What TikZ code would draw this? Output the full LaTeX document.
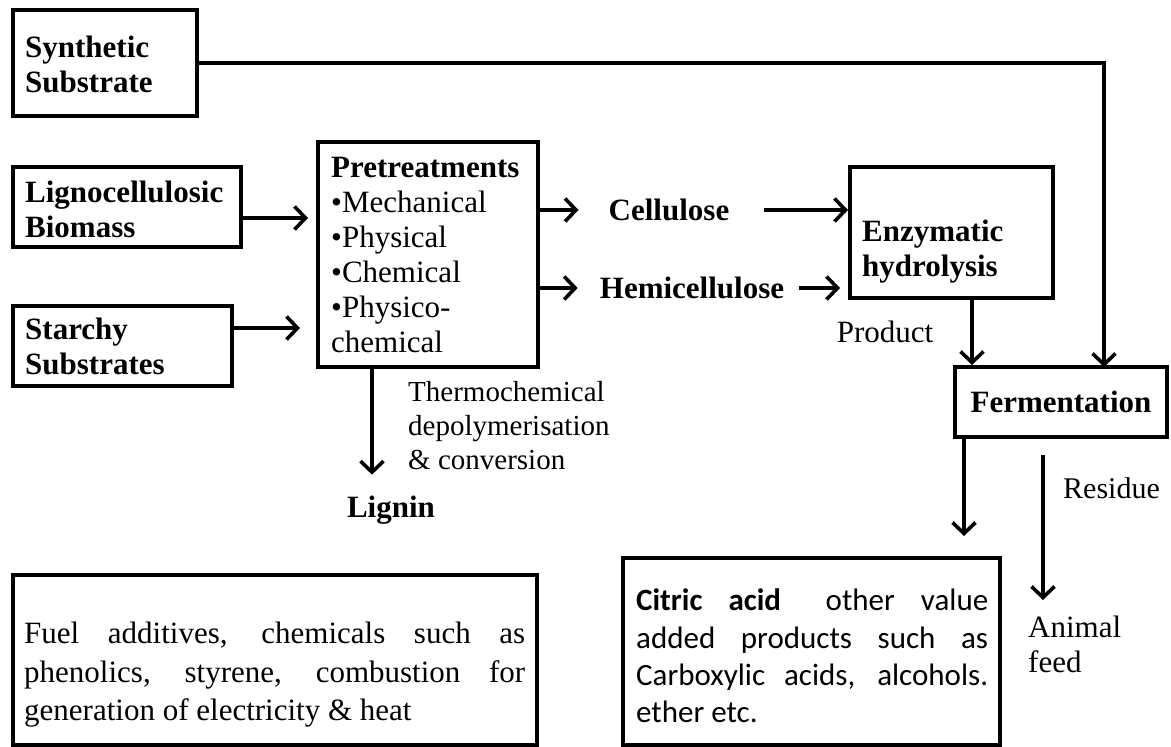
\documentclass[tikz,border=0pt]{standalone}
\usepackage{fontspec}
\setmainfont{Liberation Serif}
\newfontfamily\calib{Carlito}
\usetikzlibrary{arrows.meta}
\begin{document}
\begin{tikzpicture}[x=1pt,y=-1pt,
  box/.style={draw, line width=4pt, inner sep=0pt},
  lbl/.style={inner sep=0pt, align=left, font=\fontsize{31}{35}\selectfont},
  blbl/.style={inner sep=0pt, align=left, font=\fontsize{31}{35}\selectfont\bfseries},
  arr/.style={line width=3.6pt, -{Straight Barb[length=11pt,width=23pt]}},
  ln/.style={line width=3.6pt}]
\useasboundingbox (0,0) rectangle (1171,747);
% boxes
\node[box, minimum width=184pt, minimum height=106pt] (syn) at (105,63) {};
\node[box, minimum width=228pt, minimum height=80pt] (lig) at (127,207) {};
\node[box, minimum width=219pt, minimum height=80pt] (sta) at (122.5,346) {};
\node[box, minimum width=220pt, minimum height=225pt] (pre) at (428,254.5) {};
\node[box, minimum width=203pt, minimum height=131pt] (enz) at (951.5,232.5) {};
\node[box, minimum width=212pt, minimum height=70pt] (fer) at (1061,402) {};
\node[box, minimum width=524pt, minimum height=170pt] (fuel) at (275,660) {};
\node[box, minimum width=377pt, minimum height=187pt] (cit) at (811.5,651.5) {};
% box texts
\node[blbl, anchor=west] (synt) at (25,64.5) {Synthetic\\Substrate};
\node[blbl, anchor=west] (ligt) at (25,209.5) {Lignocellulosic\\Biomass};
\node[blbl, anchor=west] (stat) at (25,346) {Starchy\\Substrates};
\node[lbl, anchor=west] (pret) at (331,254.5) {\textbf{Pretreatments}\\•Mechanical\\•Physical\\•Chemical\\•Physico-\\chemical};
\node[blbl, anchor=west] (enzt) at (862,251.5) {Enzymatic\\hydrolysis};
\node[blbl] (fert) at (1061,402) {Fermentation};
\node[inner sep=0pt, anchor=west, align=left, font=\fontsize{31}{38.5}\selectfont] (fuelt) at (24,675)
  {\makebox[501pt][s]{Fuel additives, chemicals such as}\\
   \makebox[501pt][s]{phenolics, styrene, combustion for}\\
   generation of electricity \& heat};
\node[inner sep=0pt, anchor=west, align=left, font=\calib\fontsize{31}{37.3}\selectfont] (citt) at (636,656)
  {\makebox[352pt][s]{\textbf{Citric acid}\hspace{0.6em} other value}\\
   \makebox[352pt][s]{added products such as}\\
   \makebox[352pt][s]{Carboxylic acids, alcohols.}\\
   ether etc.};
% free labels
\node[blbl] (cel) at (669,210) {Cellulose};
\node[blbl] (hem) at (692,288) {Hemicellulose};
\node[lbl] (prod) at (885,332) {Product};
\node[lbl, anchor=west, font=\fontsize{29}{34}\selectfont] (thermo) at (408,426) {Thermochemical\\depolymerisation\\\& conversion};
\node[blbl] (lgn) at (391,510) {Lignin};
\node[lbl, anchor=west, font=\fontsize{30}{35}\selectfont] (res) at (1063,488) {Residue};
\node[lbl, anchor=west] (feed) at (1028,644.5) {Animal\\feed};
% coordinates
\coordinate (ligin) at (308,218);
\coordinate (stain) at (300,328);
\coordinate (synin) at (1104,367);
\coordinate (px) at (972,0);
\coordinate (cx) at (964,0);
\coordinate (lx) at (372,0);
\coordinate (res1) at (1043,455);
\coordinate (res2) at (1043,600);
% connectors
\draw[arr] (syn.east) -| (synin);
\draw[arr] (lig.east |- ligin) -- (ligin);
\draw[arr] (sta.east |- stain) -- (stain);
\draw[arr] (pre.east |- cel) -- ([xshift=-30pt]cel.west);
\draw[arr] ([xshift=35pt]cel.east) -- (enz.west |- cel);
\draw[arr] (pre.east |- hem) -- ([xshift=-22pt]hem.west);
\draw[arr] ([xshift=15pt]hem.east) -- ([xshift=-8pt]enz.west |- hem);
\draw[arr] (enz.south -| px) -- (fer.north -| px);
\draw[arr, shorten >=20pt] (fer.south -| cx) -- (cit.north -| cx);
\draw[arr, shorten >=21pt] (pre.south -| lx) -- (lgn.north -| lx);
\draw[arr] (res1) -- (res2);
\end{tikzpicture}
\end{document}
